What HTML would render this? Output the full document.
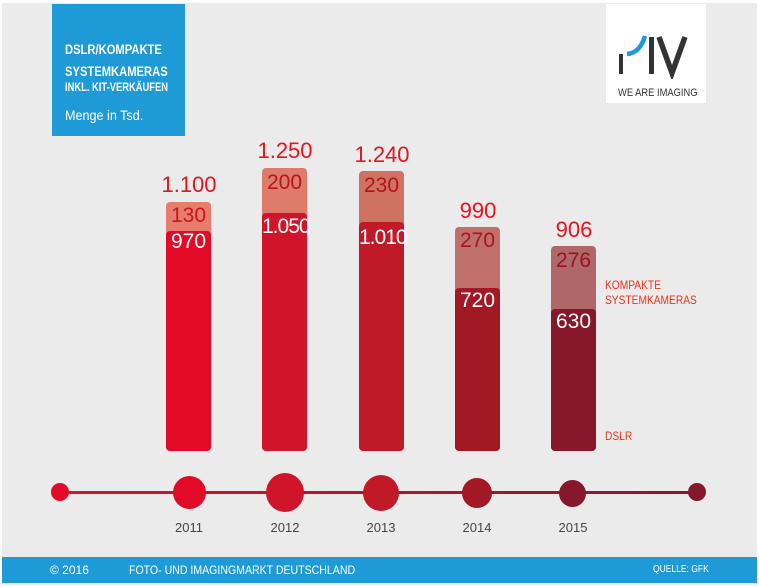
<!DOCTYPE html>
<html><head><meta charset="utf-8"><style>
body{margin:0;width:759px;height:587px;background:#fff;font-family:"Liberation Sans",sans-serif;overflow:hidden}
.bg{position:absolute;left:2px;top:3px;width:755px;height:582px;background:#ebebeb}
.a{position:absolute;white-space:nowrap}
.bar{position:absolute;width:45px;border-radius:4px}
.n{position:absolute;width:45px;text-align:center;font-size:21px}
.t{position:absolute;width:80px;text-align:center;font-size:22px;color:#e4141e}
.c{position:absolute;border-radius:50%}
.y{position:absolute;width:60px;text-align:center;font-size:13px;color:#444}
</style></head><body>
<div class="bg"></div>
<div class="a" style="left:52px;top:4px;width:133px;height:132px;background:#1e9ad6;color:#fff">
<div class="a" style="left:13px;top:34px;font-size:14px;font-weight:bold;line-height:22px;transform:scaleX(.8);transform-origin:left">DSLR/KOMPAKTE<br>SYSTEMKAMERAS</div>
<div class="a" style="left:13px;top:76px;font-size:12px;font-weight:bold;transform:scaleX(.78);transform-origin:left">INKL. KIT-VERKÄUFEN</div>
<div class="a" style="left:13px;top:103px;font-size:14px;transform:scaleX(.9);transform-origin:left">Menge in Tsd.</div>
</div>
<div class="a" style="left:606px;top:4px;width:100px;height:99px;background:#fff">
<svg class="a" style="left:0;top:0" width="100" height="75"><rect x="13" y="50" width="4" height="20" fill="#333"/><path d="M21 50 Q34 49 39 32" stroke="#1e9ad6" stroke-width="4.5" fill="none"/><rect x="43" y="33" width="5" height="37" fill="#333"/><path d="M53 33 L66 69 L79 33" stroke="#333" stroke-width="5.5" fill="none"/></svg>
<div class="a" style="left:12px;top:83px;font-size:11px;color:#333;transform:scaleX(.85);transform-origin:left">WE ARE IMAGING</div>
</div>

<div class="bar" style="left:166px;top:202px;height:249px;background:#e87d6e"></div>
<div class="bar" style="left:166px;top:231px;height:220px;background:#e30a28"></div>
<div class="bar" style="left:262px;top:168px;height:283px;background:#de7b6a"></div>
<div class="bar" style="left:262px;top:213px;height:238px;background:#d0152a"></div>
<div class="bar" style="left:359px;top:171px;height:280px;background:#cf7262"></div>
<div class="bar" style="left:359px;top:222px;height:229px;background:#c01a28"></div>
<div class="bar" style="left:455px;top:227px;height:224px;background:#c0706a"></div>
<div class="bar" style="left:455px;top:288px;height:163px;background:#a21824"></div>
<div class="bar" style="left:551px;top:246px;height:205px;background:#b0676a"></div>
<div class="bar" style="left:551px;top:309px;height:142px;background:#87172a"></div>

<div class="n" style="left:166px;top:204px;color:#c8141e">130</div>
<div class="n" style="left:166px;top:230px;color:#fff">970</div>
<div class="n" style="left:262px;top:171px;color:#b8141e">200</div>
<div class="n" style="left:262px;top:215px;color:#fff;letter-spacing:-1px">1.050</div>
<div class="n" style="left:359px;top:174px;color:#b0141e">230</div>
<div class="n" style="left:359px;top:226px;color:#fff;letter-spacing:-1px">1.010</div>
<div class="n" style="left:455px;top:229px;color:#a8141e">270</div>
<div class="n" style="left:455px;top:289px;color:#fff">720</div>
<div class="n" style="left:551px;top:249px;color:#98141e">276</div>
<div class="n" style="left:551px;top:310px;color:#fff">630</div>

<div class="t" style="left:149px;top:172px">1.100</div>
<div class="t" style="left:245px;top:138px">1.250</div>
<div class="t" style="left:342px;top:142px">1.240</div>
<div class="t" style="left:438px;top:198px">990</div>
<div class="t" style="left:534px;top:217px">906</div>

<div class="a" style="left:605px;top:278px;font-size:12px;color:#e8341e;line-height:15px;transform:scaleX(.85);transform-origin:left">KOMPAKTE<br>SYSTEMKAMERAS</div>
<div class="a" style="left:605px;top:429px;font-size:12px;color:#e8341e;transform:scaleX(.85);transform-origin:left">DSLR</div>

<div class="a" style="left:60px;top:491px;width:637px;height:3px;background:linear-gradient(90deg,#d8142a,#87172a)"></div>
<div class="c" style="left:51px;top:483px;width:18px;height:18px;background:#e30a28"></div>
<div class="c" style="left:173px;top:476px;width:33px;height:33px;background:#e30a28"></div>
<div class="c" style="left:266px;top:473px;width:38px;height:39px;background:#d0152a"></div>
<div class="c" style="left:363px;top:475px;width:36px;height:36px;background:#c01a28"></div>
<div class="c" style="left:462px;top:478px;width:30px;height:30px;background:#a21824"></div>
<div class="c" style="left:559px;top:480px;width:27px;height:27px;background:#87172a"></div>
<div class="c" style="left:688px;top:483px;width:18px;height:18px;background:#87172a"></div>

<div class="y" style="left:159px;top:520px">2011</div>
<div class="y" style="left:255px;top:520px">2012</div>
<div class="y" style="left:351px;top:520px">2013</div>
<div class="y" style="left:447px;top:520px">2014</div>
<div class="y" style="left:543px;top:520px">2015</div>

<div class="a" style="left:2px;top:557px;width:755px;height:26px;background:#1e9ad6;color:#fff;font-size:12px">
<div class="a" style="left:48px;top:6px">© 2016</div>
<div class="a" style="left:127px;top:6px;transform:scaleX(.88);transform-origin:left">FOTO- UND IMAGINGMARKT DEUTSCHLAND</div>
<div class="a" style="left:651px;top:7px;font-size:10px;transform:scaleX(.85);transform-origin:left">QUELLE: GFK</div>
</div>
</body></html>
